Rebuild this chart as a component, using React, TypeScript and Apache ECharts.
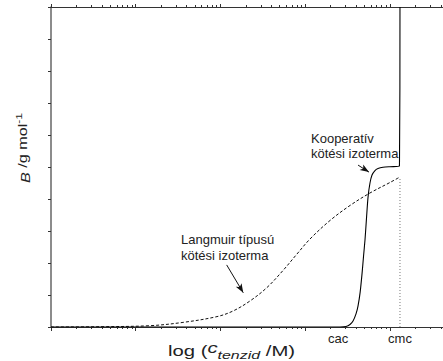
import React, { useEffect, useRef } from 'react';
import * as echarts from 'echarts';

// Axis extent in log10(c / M) and B (arbitrary units of g/mol)
const X_MIN = -6;
const X_MAX = -1.372;
const Y_MAX = 10;
const DECADES = [-6, -5, -4, -3, -2];
const MINOR_MULTIPLIERS = [2, 3, 4, 5, 6, 7, 8, 9];

// Characteristic concentrations shown under the axis
const MARKER_NAMES = ['cac', 'cmc'];
const MARKER_LOGC = [-2.61, -1.88];
const CMC_LOGC = -1.88;

// Langmuir-type binding isotherm
const langmuirLogC = [-6.0, -5.421, -4.831, -4.442, -4.04, -3.851, -3.651, -3.45, -3.261, -3.096, -2.942, -2.706, -2.47, -2.234, -1.998, -1.88];
const langmuirB = [0.0, 0.009, 0.041, 0.144, 0.325, 0.5, 0.813, 1.234, 1.766, 2.281, 2.75, 3.328, 3.797, 4.188, 4.516, 4.688];

// Cooperative binding isotherm (rises at cac, then vertical at cmc)
const coopLogC = [-6.0, -2.588, -2.517, -2.47, -2.434, -2.399, -2.375, -2.35, -2.327, -2.31, -2.293, -2.275, -2.257, -2.234, -2.21, -2.175, -2.139, -2.08, -1.998, -1.886, -1.88];
const coopB = [0.0, 0.0, 0.016, 0.078, 0.19, 0.41, 0.66, 1.09, 1.69, 2.22, 2.72, 3.41, 4.06, 4.5, 4.75, 4.89, 4.95, 4.99, 5.01, 5.03, 10];

// Annotation arrows: [fromLogC, fromB, toLogC, toB]
const langmuirArrow = [-3.926, 1.94, -3.73, 1.07];
const coopArrow = [-2.375, 5.06, -2.246, 4.84];

const FONT = '"Liberation Sans", Arial, Helvetica, sans-serif';
const TEXT = '#222';

const log10 = (v: number) => Math.log(v) / Math.LN10;
const majorTicks = DECADES.filter((d) => d >= X_MIN && d <= X_MAX);
const minorTicks: number[] = [];
DECADES.forEach((d) => {
  MINOR_MULTIPLIERS.forEach((m) => {
    const v = d + log10(m);
    if (v <= X_MAX) minorTicks.push(v);
  });
});

function xAxisBase(position: 'top' | 'bottom', ticks: number[], len: number, showLine: boolean) {
  return {
    type: 'value',
    position,
    offset: 0,
    min: X_MIN,
    max: X_MAX,
    splitLine: { show: false },
    axisLine: { show: showLine, onZero: false, lineStyle: { color: '#333', width: 1.2 } },
    axisTick: { show: true, customValues: ticks, length: len, inside: false, lineStyle: { color: '#333', width: 1 } },
    axisLabel: { show: false },
  };
}

export default function App() {
  const ref = useRef<HTMLDivElement>(null);

  useEffect(() => {
    if (!ref.current) return;
    const chart = echarts.init(ref.current, undefined, { renderer: 'svg' });

    const langmuirData = langmuirLogC.map((x, i) => [x, langmuirB[i]]);
    const coopData = coopLogC.map((x, i) => [x, coopB[i]]);
    const cmcTop = langmuirB[langmuirB.length - 1];

    chart.setOption({
      animation: false,
      backgroundColor: '#fff',
      grid: { left: 51, top: 7, right: 0, bottom: 34, containLabel: false },
      xAxis: [
        xAxisBase('bottom', minorTicks, 2, true),
        {
          ...xAxisBase('bottom', majorTicks, 4, false),
          axisLabel: {
            show: true,
            customValues: MARKER_LOGC,
            formatter: (v: number) => {
              const idx = MARKER_LOGC.findIndex((m) => Math.abs(m - v) < 1e-6);
              return idx >= 0 ? MARKER_NAMES[idx] : '';
            },
            margin: 5,
            fontFamily: FONT,
            fontSize: 13,
            color: TEXT,
          },
        },
        xAxisBase('top', minorTicks, 2, true),
        xAxisBase('top', majorTicks, 3, false),
      ],
      yAxis: {
        type: 'value',
        min: 0,
        max: Y_MAX,
        interval: 1,
        splitLine: { show: false },
        axisLine: { show: true, lineStyle: { color: '#666', width: 1.5 } },
        axisTick: { show: true, inside: false, length: 3, lineStyle: { color: '#333' } },
        axisLabel: { show: false },
      },
      series: [
        {
          name: 'Langmuir',
          type: 'line',
          data: langmuirData,
          showSymbol: false,
          smooth: 0.35,
          lineStyle: { color: '#111', width: 1, type: [3, 2] },
          z: 3,
          markLine: {
            silent: true,
            symbol: ['none', 'arrow'],
            symbolSize: [5, 9],
            label: { show: false },
            lineStyle: { color: '#111', width: 1, type: 'solid' },
            data: [
              [
                { coord: [langmuirArrow[0], langmuirArrow[1]] },
                { coord: [langmuirArrow[2], langmuirArrow[3]] },
              ],
              [
                { coord: [coopArrow[0], coopArrow[1]] },
                { coord: [coopArrow[2], coopArrow[3]] },
              ],
            ],
          },
        },
        {
          name: 'Kooperatív',
          type: 'line',
          data: coopData,
          showSymbol: false,
          smooth: 0.25,
          lineStyle: { color: '#000', width: 1.1 },
          z: 4,
        },
        {
          name: 'cmc',
          type: 'line',
          data: [
            [CMC_LOGC, 0],
            [CMC_LOGC, cmcTop],
          ],
          showSymbol: false,
          lineStyle: { color: '#777', width: 1, type: [1, 2] },
          z: 2,
        },
      ],
      graphic: [
        // axis titles (set in a wide, stretched face)
        {
          type: 'text',
          x: 231.5,
          y: 351,
          scaleX: 1.45,
          style: {
            text: 'log ({i|c}{sub|tenzid} /M)',
            align: 'center',
            verticalAlign: 'middle',
            font: `14px ${FONT}`,
            fill: TEXT,
            rich: {
              i: { font: `italic 14px ${FONT}`, fill: TEXT, lineHeight: 20, verticalAlign: 'top' },
              sub: { font: `italic 11px ${FONT}`, fill: TEXT, lineHeight: 11, verticalAlign: 'bottom' },
            },
          },
        },
        {
          type: 'text',
          x: 23,
          y: 148,
          rotation: Math.PI / 2,
          scaleX: 1.35,
          style: {
            text: '{i|B} /g mol{sup|-1}',
            align: 'center',
            verticalAlign: 'middle',
            font: `12px ${FONT}`,
            fill: TEXT,
            rich: {
              i: { font: `italic 12px ${FONT}`, fill: TEXT, lineHeight: 18, verticalAlign: 'bottom' },
              sup: { font: `9px ${FONT}`, fill: TEXT, lineHeight: 9, verticalAlign: 'top' },
            },
          },
        },
        // annotations
        { type: 'text', left: 311, top: 132, style: { text: 'Kooperatív', font: `13px ${FONT}`, fill: TEXT } },
        { type: 'text', left: 311, top: 147, style: { text: 'kötési izoterma', font: `13px ${FONT}`, fill: TEXT } },
        { type: 'text', left: 181, top: 233, style: { text: 'Langmuir típusú', font: `13px ${FONT}`, fill: TEXT } },
        { type: 'text', left: 181, top: 249, style: { text: 'kötési izoterma', font: `13px ${FONT}`, fill: TEXT } },
      ],
    });

    return () => chart.dispose();
  }, []);

  return (
    <div
      ref={ref}
      style={{ position: 'fixed', left: 0, top: 0, width: 443, height: 361, background: '#fff' }}
    />
  );
}
